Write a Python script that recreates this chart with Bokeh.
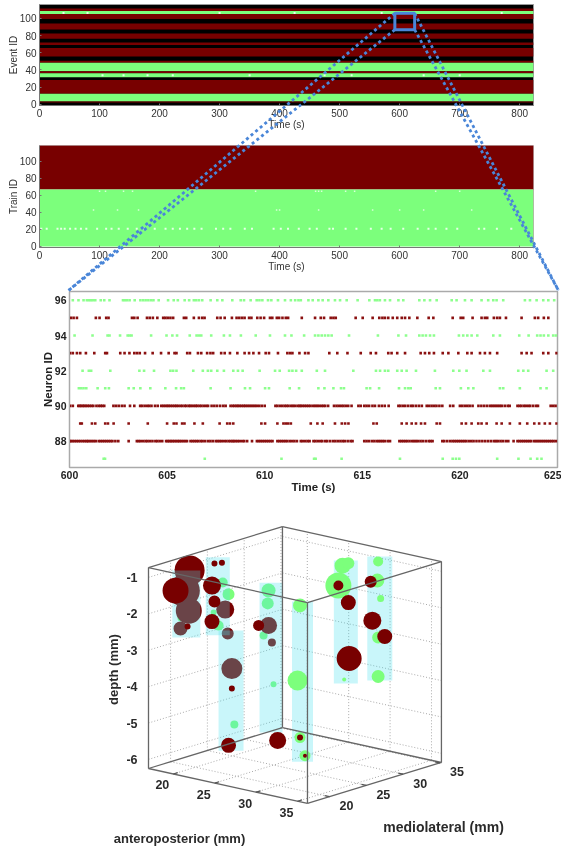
from bokeh.plotting import figure
from bokeh.layouts import column
from bokeh.models import Range1d, FixedTicker
from bokeh.core.properties import value
from bokeh.embed import file_html
from bokeh.resources import INLINE

RED = "#780000"
GREEN = "#7cff7c"
BLUE = "#4a86d8"
FONT = "Liberation Sans"

# ---------- panel 1: event raster, bands of IDs ----------
event_lo = [104, 99.3, 76.2, 87, 55.8, 48.5, 38.5, 36.2, 31.5, 12.3, 3.5, 2.3, 108.5, 68.9]
event_hi = [108.5, 105, 82.3, 93.9, 65.5, 50.8, 48.5, 38.5, 36.2, 28.5, 12.3, 3.5, 111.5, 72]
event_col = ["g", "r", "r", "r", "r", "r", "g", "r", "g", "r", "g", "r", "r", "r"]
event_speck_t = [40, 80, 105, 140, 180, 222, 300, 350, 425, 475, 520, 570, 640, 700, 770]
event_speck_id = [106, 106, 34, 34, 34, 34, 106, 34, 106, 34, 34, 106, 34, 34, 106]
zoom_t = [592, 625]
zoom_id = [87, 106]

# ---------- panel 2: train raster ----------
train_lo = [67, 0]
train_hi = [118.8, 67]
train_col = ["r", "g"]
speck21_t = [3, 12, 30, 36, 42, 51, 60, 69, 78, 96, 111, 120, 132, 147, 162, 174, 192, 210, 222, 234, 246, 258, 270,
             294, 306, 318, 342, 354, 390, 402, 414, 432, 450, 462, 483, 489, 510, 528, 552, 570, 585, 606, 630, 648,
             660, 678, 696, 732, 741, 762, 786]
speck65_t = [100, 110, 140, 155, 360, 460, 465, 470, 510, 525, 660, 700]
speck43_t = [90, 130, 165, 395, 400, 465, 555, 600, 640, 720]

# ---------- panel 3: spike times (s after 600) ----------
T0 = 600
r96 = [.17, .46, .72, .89, 1.0, 1.1, 1.2, 1.32, 1.6, 1.78, 2.05, 2.74, 2.84, 2.95, 3.08, 3.34, 3.63, 3.77, 3.9, 4.04,
       4.18, 4.3, 4.57, 5.05, 5.34, 5.55, 5.9, 6.13, 6.37, 6.49, 6.63, 6.8, 7.23, 7.57, 7.83, 8.34, 8.77, 8.94, 9.28,
       9.59, 9.73, 9.88, 10.17, 10.34, 10.68, 11.04, 11.34, 11.56, 11.73, 11.85, 12.24, 12.46, 12.75, 12.97, 13.26,
       13.6, 13.86, 14.2, 14.76, 15.36, 15.65, 15.77, 15.9, 16.16, 16.42, 16.85, 17.1, 17.92, 18.18, 18.47, 18.81,
       19.58, 19.83, 20.26, 20.6, 21.11, 21.45, 21.71, 21.88, 22.22, 23.33, 23.59, 23.93, 24.27, 24.53, 24.83]
r95 = [.07, .21, .38, 1.35, 1.54, 1.88, 2.0, 3.2, 3.32, 3.49, 3.97, 4.11, 4.27, 4.5, 4.8, 4.91, 5.03, 5.17, 5.31, 5.86,
       5.98, 6.37, 6.63, 6.8, 6.92, 7.57, 7.74, 7.95, 8.32, 8.56, 8.7, 8.84, 8.97, 9.2, 9.32, 9.62, 9.79, 9.97, 10.27,
       10.39, 10.62, 10.74, 10.91, 11.08, 11.2, 11.9, 12.58, 12.87, 13.04, 13.38, 13.52, 13.64, 14.66, 15.02, 15.53,
       15.87, 16.03, 16.16, 16.33, 16.56, 16.79, 17.02, 17.19, 17.41, 17.82, 18.4, 18.64, 19.63, 20.04, 20.17, 20.65,
       21.11, 21.28, 21.4, 21.74, 21.91, 22.05, 22.36, 23.16, 23.84, 24.01, 24.3, 24.53]
r94 = [.26, 1.18, 1.95, 2.05, 2.59, 2.98, 3.08, 3.18, 4.18, 4.97, 5.27, 5.51, 6.16, 6.51, 6.63, 6.75, 7.26, 7.91, 8.22,
       8.78, 9.54, 10.27, 11.04, 11.37, 12.02, 12.58, 12.75, 12.92, 13.09, 13.26, 13.43, 14.32, 15.8, 16.85, 17.24,
       17.92, 18.09, 18.26, 18.47, 18.67, 19.95, 20.17, 20.38, 20.6, 20.89, 21.71, 22.05, 23.04, 23.52, 23.96, 24.13,
       24.3, 24.53, 24.78, 24.92]
r93 = [.03, .17, .38, .55, .84, 1.27, 1.83, 1.92, 2.6, 2.82, 3.07, 3.32, 3.46, 3.6, 3.87, 4.26, 4.69, 5.08, 5.38, 5.48,
       6.03, 6.17, 6.58, 6.75, 7.05, 7.22, 7.36, 7.77, 7.95, 8.22, 8.6, 8.97, 9.2, 9.42, 9.71, 10.05, 10.22, 10.68,
       11.16, 11.3, 11.42, 11.78, 12.07, 12.24, 13.31, 13.72, 14.24, 14.92, 15.43, 15.7, 16.33, 16.5, 16.79, 17.19,
       17.99, 18.21, 18.43, 18.67, 19.12, 19.41, 19.92, 20.38, 20.6, 21.03, 21.28, 21.54, 21.91, 23.16, 23.42, 23.67,
       24.27, 24.53, 24.95]
r92 = [.67, .99, 1.11, 2.09, 3.58, 3.82, 4.33, 5.17, 5.31, 5.48, 6.34, 6.83, 7.09, 7.26, 7.57, 7.91, 8.39, 8.63, 8.87,
       9.74, 10.53, 10.77, 11.25, 11.42, 11.61, 11.9, 12.67, 13.09, 14.54, 15.7, 15.91, 16.16, 16.33, 16.79, 17.02,
       17.27, 17.75, 18.72, 19.66, 19.97, 20.34, 21.2, 21.54, 22.99, 23.25, 23.5, 24.44, 24.78]
r91 = [.48, .6, .72, .86, 1.44, 1.83, 2.02, 3.03, 3.29, 3.63, 4.14, 4.91, 5.46, 5.72, 5.86, 7.23, 8.25, 8.99, 9.25,
       10.02, 10.22, 11.28, 11.76, 12.75, 13.06, 13.52, 13.91, 14.06, 15.22, 15.4, 15.86, 16.88, 17.19, 17.36, 17.48,
       18.76, 18.98, 20.05, 20.43, 20.69, 22.05, 22.22, 23.07, 24.13, 24.44]
r90 = [.03, .17, .45, .52, .6, .68, .76, .84, .93, 1.02, 1.12, 1.22, 1.38, 1.5, 1.6, 1.68, 1.78, 2.25, 2.38, 2.52, 2.68,
       2.82, 3.1, 3.32, 3.62, 3.72, 3.85, 3.98, 4.08, 4.2, 4.38, 4.52, 4.7, 4.8, 4.9, 5.0, 5.08, 5.18, 5.28, 5.38, 5.47,
       5.56, 5.68, 5.78, 5.9, 5.98, 6.1, 6.18, 6.27, 6.38, 6.47, 6.55, 6.66, 6.76, 6.88, 7.0, 7.1, 7.28, 7.42, 7.56,
       7.72, 7.88, 8.0, 8.25, 8.36, 8.45, 8.55, 8.63, 8.72, 8.82, 8.92, 9.0, 9.1, 9.2, 9.3, 9.4, 9.5, 9.6, 9.72, 9.85,
       10.0, 10.55, 10.65, 10.78, 10.9, 11.02, 11.12, 11.22, 11.35, 11.45, 11.55, 11.68, 11.78, 11.85, 11.95, 12.05,
       12.15, 12.25, 12.35, 12.48, 12.58, 12.68, 12.78, 12.9, 13.0, 13.1, 13.25, 13.55, 13.68, 13.8, 13.92, 14.03,
       14.15, 14.28, 14.45, 14.8, 14.92, 15.1, 15.22, 15.35, 15.52, 15.65, 15.85, 16.0, 16.15, 16.35, 16.85, 16.95,
       17.08, 17.2, 17.35, 17.5, 17.6, 17.75, 17.9, 18.05, 18.3, 18.42, 18.55, 18.68, 18.8, 18.95, 19.1, 19.5, 19.66,
       20.0, 20.12, 20.25, 20.38, 20.5, 20.65, 20.95, 21.1, 21.25, 21.4, 21.55, 21.65, 21.75, 21.85, 21.95, 22.05,
       22.15, 22.3, 22.45, 22.55, 22.95, 23.05, 23.15, 23.28, 23.38, 23.5, 23.6, 23.75, 23.9, 24.0, 24.65, 24.78, 24.9]
r89 = [.55, .63, 1.15, 1.32, 1.83, 1.97, 2.26, 3.03, 4.01, 5.0, 5.34, 5.48, 5.77, 5.89, 6.4, 6.83, 7.69, 8.08, 8.22,
       8.39, 9.83, 10.02, 10.65, 10.96, 11.08, 11.2, 11.34, 12.36, 12.7, 12.97, 13.6, 13.95, 14.12, 14.29, 15.57, 15.74,
       17.02, 17.27, 17.53, 17.75, 18.01, 18.21, 18.81, 18.98, 20.09, 20.31, 20.6, 20.94, 21.11, 21.37, 21.88, 22.14,
       22.56, 23.07, 23.45, 23.81, 24.06, 24.35, 24.61, 24.95]
r88 = [.0, .08, .17, .27, .37, .47, .57, .68, .78, .88, .95, 1.05, 1.15, 1.25, 1.35, 1.5, 1.6, 1.7, 1.8, 1.9, 2.0, 2.1,
       2.2, 2.35, 2.5, 3.03, 3.45, 3.55, 3.65, 3.78, 3.9, 4.0, 4.12, 4.25, 4.4, 4.5, 4.62, 4.75, 4.95, 5.03, 5.12, 5.2,
       5.28, 5.37, 5.46, 5.55, 5.63, 5.72, 5.82, 5.92, 6.02, 6.2, 6.3, 6.4, 6.5, 6.6, 6.72, 6.82, 6.95, 7.1, 7.22, 7.35,
       7.5, 7.6, 7.7, 7.8, 7.92, 8.03, 8.15, 8.25, 8.35, 8.42, 8.52, 8.62, 8.72, 8.85, 8.95, 9.1, 9.35, 9.6, 9.7, 9.8,
       9.9, 10.0, 10.1, 10.2, 10.3, 10.4, 10.65, 10.75, 10.85, 10.95, 11.05, 11.15, 11.28, 11.4, 11.52, 11.65, 11.85,
       11.95, 12.08, 12.2, 12.3, 12.5, 12.6, 12.72, 12.85, 12.95, 13.1, 13.2, 13.35, 13.5, 13.62, 13.75, 13.88, 14.0,
       14.1, 14.25, 14.4, 14.5, 15.1, 15.22, 15.35, 15.5, 15.62, 15.75, 15.85, 15.95, 16.05, 16.15, 16.3, 16.42, 16.9,
       17.0, 17.1, 17.2, 17.3, 17.42, 17.55, 17.65, 17.75, 17.85, 17.98, 18.1, 18.25, 18.4, 18.5, 18.6, 19.1, 19.2,
       19.35, 19.5, 19.62, 19.72, 19.82, 19.92, 20.02, 20.12, 20.22, 20.32, 20.45, 20.58, 20.7, 20.85, 21.0, 21.15,
       21.3, 21.45, 21.6, 21.75, 21.85, 21.95, 22.08, 22.2, 22.35, 22.48, 22.75, 22.95, 23.05, 23.15, 23.25, 23.35,
       23.45, 23.55, 23.65, 23.8, 23.9, 24.0, 24.1, 24.2, 24.3, 24.4, 24.5, 24.6, 24.7, 24.8, 24.92]
r87 = [1.75, 1.82, 6.93, 10.86, 12.53, 12.61, 13.94, 16.93, 19.12, 19.63, 19.8, 19.97, 21.91, 23.0, 23.62, 23.96, 24.18]
red_rows = {95: r95, 93: r93, 90: r90, 89: r89, 88: r88}
green_rows = {96: r96, 94: r94, 92: r92, 91: r91, 87: r87}

# ---------- panel 4: 3D scatter (ap mm, ml mm, depth mm, marker size) ----------
red_back_ap = [19.3, 18.6, 19.2, 18.2, 23.6, 23.9, 24.4, 23.5, 23.9]
red_back_ml = [20, 20, 20, 20, 20, 20, 20, 26, 26]
red_back_d = [-.88, -1.47, -1.99, -2.53, -1.74, -2.38, -3.32, -2.55, -3.0]
red_back_s = [30, 32, 26, 14, 18, 12, 21, 17, 8]
green_back_ap = [23.3, 24, 22.2, 22.8, 18.2, 23.5, 23.4, 22.9, 24.1, 24.7]
green_back_ml = [20, 20, 20, 20, 20, 26, 26, 26, 26, 20]
green_back_d = [-1.01, -1.3, -1.89, -2.22, -2.25, -1.59, -1.95, -2.86, -4.14, -4.84]
green_back_s = [10, 12, 6, 10, 6, 14, 12, 8, 6, 8]
green_ap = [27.3, 27, 27.3, 27.9, 26.6, 27.1, 27.8, 31.4, 31.3, 31.7, 31.4, 31.4, 27.3]
green_ml = [26, 26, 26, 26, 32, 32, 32, 32, 32, 32, 32, 32, 32]
green_d = [-1.81, -3.89, -5.44, -5.91, -1.67, -1.1, -1.0, -.77, -1.3, -1.77, -2.86, -3.93, -4.22]
green_s = [14, 20, 11, 11, 26, 16, 12, 10, 14, 7, 12, 13, 4]
red_ap = [17.6, 22, 22.3, 23.2, 22.3, 22, 19.05, 22.3, 24.6, 27.3, 27.9, 26.6, 30.5, 27.8, 30.7, 32.2, 27.9, 24.4, 24.0]
red_ml = [20, 20, 20, 20, 20, 20, 20, 26, 26, 26, 26, 32, 32, 32, 32, 32, 32, 20, 20]
red_d = [-1.52, -1.16, -.54, -.47, -1.58, -2.15, -2.43, -2.61, -5.66, -5.44, -5.91, -1.67, -1.37, -2.08,
         -2.43, -2.79, -3.61, -3.87, -5.45]
red_s = [26, 18, 6, 6, 12, 15, 6, 11, 17, 6, 4, 10, 12, 15, 18, 15, 25, 6, 15]
shank_ap = [18.9, 22.7, 24.3, 23.8, 27.6, 27.5, 31.6]
shank_ml = [20, 20, 20, 26, 26, 32, 32]
shank_top = [-.9, -.35, -2.28, -1.36, -1.69, -.94, -.62]
shank_bot = [-2.74, -2.49, -5.58, -5.48, -6.09, -4.32, -4.03]
shank_w = [28, 24, 25, 23, 21, 24, 25]
ap_ticks = [20, 25, 30, 35]
ml_ticks = [20, 25, 30, 35]
d_ticks = [-1, -2, -3, -4, -5, -6]
AP0, AP1, ML0, ML1, D0, D1 = 17, 36.2, 17, 35.2, -6.25, -.73


def proj(ap, ml, d):
    dx, dy = ap - AP0, ml - ML0
    return 148 + 8.28 * dx + 7.36 * dy, 768 + 1.82 * dx - 2.25 * dy + 36.4 * (D0 - d)


def style_axes(p, xticks, yticks, xlabel, ylabel, bold, tick_size, label_size, col):
    style = "bold" if bold else "normal"
    p.xaxis.ticker = FixedTicker(ticks=xticks)
    p.yaxis.ticker = FixedTicker(ticks=yticks)
    p.xaxis.axis_label = xlabel
    p.yaxis.axis_label = ylabel
    for ax in (p.xaxis[0], p.yaxis[0]):
        ax.major_label_text_font = FONT
        ax.major_label_text_font_size = tick_size
        ax.major_label_text_font_style = style
        ax.major_label_text_color = col
        ax.axis_label_text_font = FONT
        ax.axis_label_text_font_size = label_size
        ax.axis_label_text_font_style = style
        ax.axis_label_text_color = col
        ax.major_tick_in = 2
        ax.major_tick_out = 0
        ax.minor_tick_in = 0
        ax.minor_tick_out = 0
        ax.major_label_standoff = 3
        ax.axis_line_color = "#777777"
        ax.major_tick_line_color = "#777777"
    p.xaxis[0].axis_label_standoff = -1
    p.yaxis[0].axis_label_standoff = -2
    p.grid.visible = False


BLUR = {"filter": "blur(0.45px)"}
COMMON = dict(output_backend="svg", toolbar_location=None, width=561, frame_align=False)
colmap = {"r": RED, "g": GREEN}

# panel 1
p1 = figure(height=134, x_range=Range1d(0, 823), y_range=Range1d(-1.2, 116), min_border_left=39, min_border_right=28,
            min_border_top=4, min_border_bottom=29, background_fill_color="#000000", **COMMON)
p1.quad(left=0, right=823, bottom=event_lo, top=event_hi, color=[colmap[c] for c in event_col], line_width=0)
p1.scatter(event_speck_t, event_speck_id, size=2, color="#e8ffe8", marker="square", line_width=0)
style_axes(p1, list(range(0, 801, 100)), list(range(0, 101, 20)), "Time (s)", "Event ID", False, "10px", "10px", "#333333")
p1.outline_line_color = "#999999"

# panel 2
p2 = figure(height=146, x_range=Range1d(0, 823), y_range=Range1d(-1.2, 118.8), min_border_left=39, min_border_right=28,
            min_border_top=11, min_border_bottom=33, **COMMON)
p2.quad(left=0, right=823, bottom=train_lo, top=train_hi, color=[colmap[c] for c in train_col], line_width=0)
p2.scatter(speck21_t, [21] * len(speck21_t), size=2, color="#e8ffe8", marker="square", line_width=0)
p2.scatter(speck65_t, [65] * len(speck65_t), size=1.5, color="#d8ffd8", marker="square", line_width=0)
p2.scatter(speck43_t, [43] * len(speck43_t), size=1.5, color="#d8ffd8", marker="square", line_width=0)
style_axes(p2, list(range(0, 801, 100)), list(range(0, 101, 20)), "Time (s)", "Train ID", False, "10px", "10px", "#333333")
p2.outline_line_color = "#bbaaaa"

# panel 3
p3 = figure(height=220, x_range=Range1d(T0, T0 + 25), y_range=Range1d(86.5, 96.5), min_border_left=69, min_border_right=4,
            min_border_top=11, min_border_bottom=33, **COMMON)
for row, times in green_rows.items():
    p3.scatter([T0 + t for t in times], [row] * len(times), size=2.6, marker="square", color="#8dff8d", line_width=0)
for row, times in red_rows.items():
    p3.scatter([T0 + t for t in times], [row] * len(times), size=2.6, marker="square", color="#8a1010", line_width=0)
style_axes(p3, [600, 605, 610, 615, 620, 625], [88, 90, 92, 94, 96], "Time (s)", "Neuron ID", True, "10.5px", "11.5px", "#222222")
p3.outline_line_color = "#aaaaaa"
p3.outline_line_width = 1.5
p3.xaxis[0].major_tick_in = 0
p3.yaxis[0].major_tick_in = 0
p3.xaxis[0].axis_line_color = "#aaaaaa"
p3.yaxis[0].axis_line_color = "#aaaaaa"

# panel 4: projected 3D box
p4 = figure(height=350, x_range=Range1d(0, 561), y_range=Range1d(850, 500), x_axis_type=None, y_axis_type=None,
            min_border=0, outline_line_color=None, **COMMON)
p4.grid.visible = False
gx, gy = [], []


def seg(a, b, xs, ys):
    pa, pb = proj(*a), proj(*b)
    xs.append([pa[0], pb[0]])
    ys.append([pa[1], pb[1]])


for d in d_ticks:
    seg((AP0, ML0, d), (AP0, ML1, d), gx, gy)
    seg((AP0, ML1, d), (AP1, ML1, d), gx, gy)
for m in ml_ticks:
    seg((AP0, m, D0), (AP0, m, D1), gx, gy)
    seg((AP0, m, D0), (AP1, m, D0), gx, gy)
for a in ap_ticks:
    seg((a, ML1, D0), (a, ML1, D1), gx, gy)
    seg((a, ML0, D0), (a, ML1, D0), gx, gy)
p4.multi_line(gx, gy, line_color="#aaaaaa", line_width=1, line_dash="1 2")


def balls(ap, ml, d, s, col):
    pts = [proj(*t) for t in zip(ap, ml, d)]
    p4.scatter([q[0] for q in pts], [q[1] for q in pts], size=s, color=col, line_width=0)


balls(green_back_ap, green_back_ml, green_back_d, green_back_s, GREEN)
balls(red_back_ap, red_back_ml, red_back_d, red_back_s, RED)
left, right, top, bot = [], [], [], []
for a, m, t, b, w in zip(shank_ap, shank_ml, shank_top, shank_bot, shank_w):
    cx, ct = proj(a, m, t)
    _, cb = proj(a, m, b)
    left.append(cx - w / 2)
    right.append(cx + w / 2)
    top.append(ct)
    bot.append(cb)
p4.quad(left=left, right=right, top=top, bottom=bot, fill_color="#4be1f0", fill_alpha=0.3, line_width=0)
balls(green_ap, green_ml, green_d, green_s, GREEN)
balls(red_ap, red_ml, red_d, red_s, RED)

ex, ey = [], []
corners = [(AP0, ML0), (AP1, ML0), (AP1, ML1), (AP0, ML1)]
for i, c in enumerate(corners):
    n = corners[(i + 1) % 4]
    seg((c[0], c[1], D0), (n[0], n[1], D0), ex, ey)
    seg((c[0], c[1], D1), (n[0], n[1], D1), ex, ey)
    seg((c[0], c[1], D0), (c[0], c[1], D1), ex, ey)
p4.multi_line(ex, ey, line_color="#666666", line_width=1.3)
tx, ty = [], []
for a in ap_ticks:
    seg((a, ML0, D0), (a, ML0 + 0.6, D0), tx, ty)
for m in ml_ticks:
    seg((AP1, m, D0), (AP1 - 0.6, m, D0), tx, ty)
p4.multi_line(tx, ty, line_color="#555555", line_width=1.2)

lab = dict(text_font=value(FONT), text_font_style="bold", text_color="#2a2a2a", text_font_size="12.5px")
p4.text([proj(AP0, ML0, d)[0] - 11 for d in d_ticks], [proj(AP0, ML0, d)[1] for d in d_ticks],
        text=[str(d) for d in d_ticks], text_align="right", text_baseline="middle", **lab)
p4.text([proj(a, ML0, D0)[0] - 11 for a in ap_ticks], [proj(a, ML0, D0)[1] + 11 for a in ap_ticks],
        text=[str(a) for a in ap_ticks], text_align="center", text_baseline="middle", **lab)
p4.text([proj(AP1, m, D0)[0] + 17 for m in ml_ticks], [proj(AP1, m, D0)[1] + 9 for m in ml_ticks],
        text=[str(m) for m in ml_ticks], text_align="center", text_baseline="middle", **lab)
lab_big = dict(lab, text_font_size="13px")
p4.text([179], [838], text=["anteroposterior (mm)"], text_align="center", text_baseline="middle", **lab_big)
p4.text([443], [826], text=["mediolateral (mm)"], text_align="center", text_baseline="middle", **dict(lab, text_font_size="14px"))
p4.text([113], [669], text=["depth (mm)"], angle=1.5708, text_align="center", text_baseline="middle", **lab_big)

# overlay: zoom rectangle and connectors from panel 1 to panel 3
ov = figure(height=850, x_range=Range1d(0, 561), y_range=Range1d(850, 0), x_axis_type=None, y_axis_type=None, min_border=0,
            outline_line_color=None, background_fill_alpha=0, border_fill_alpha=0, **COMMON)
ov.grid.visible = False


def p1x(t):
    return 39 + t * 494 / 823


def p1y(i):
    return 104 - i * 0.86


zl, zr = p1x(zoom_t[0]), p1x(zoom_t[1])
zb, zt = p1y(zoom_id[0]), p1y(zoom_id[1])
ov.quad(left=[zl], right=[zr], top=[zt], bottom=[zb], fill_alpha=0, line_color=BLUE, line_width=3)
cx = [[zl, 68], [zl, 68], [zr, 558], [zr, 558]]
cy = [[zt, 290], [zb, 290], [zt, 290], [zb, 290]]
ov.multi_line(cx, cy, line_color=BLUE, line_width=2.8, line_dash="3 3")

for fig in (p1, p2, p3, p4):
    fig.margin = (0, 0, 0, 0)
    fig.styles = BLUR
ov.margin = (-850, 0, 0, 0)

root = column(p1, p2, p3, p4, ov, spacing=0, margin=(0, 0, 0, 0))
open("out.html", "w").write(file_html(root, INLINE))
